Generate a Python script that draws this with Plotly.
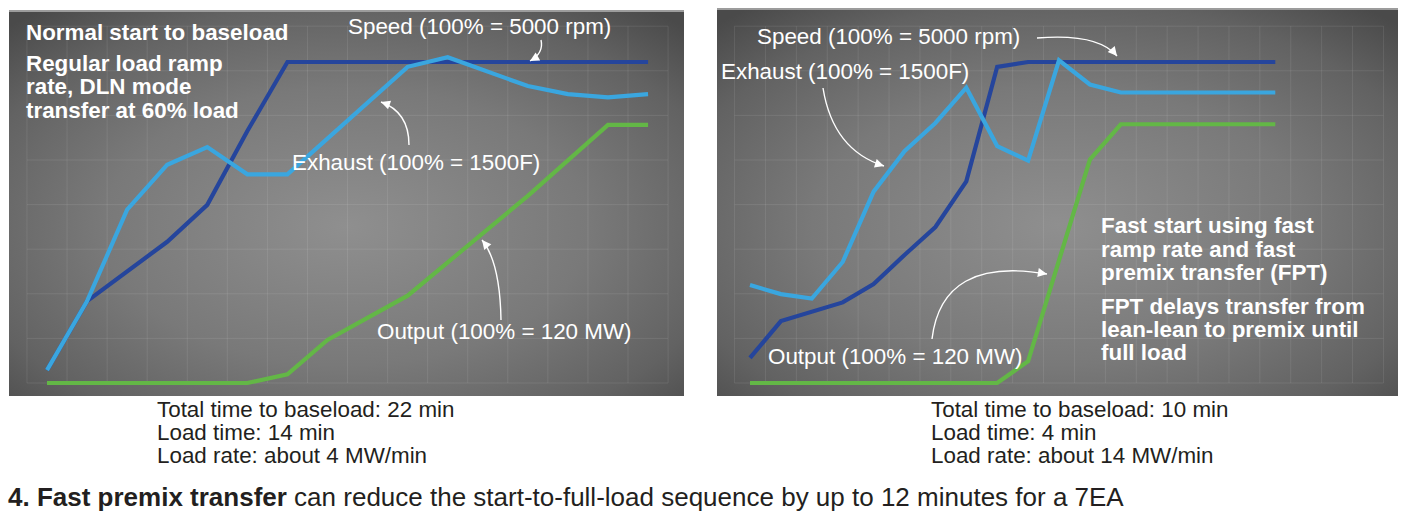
import base64
import math
import plotly.graph_objects as go

W, H = 1407, 513

# ---------------- data (x = time step on the chart grid, y = % of full scale) -------------
normal_speed_t = [0, 1, 3, 4, 5, 6, 15]
normal_speed = [4, 25.5, 44, 55.5, 78.5, 100, 100]
normal_exhaust_t = [0, 1, 2, 3, 4, 5, 6, 9, 10, 11, 12, 13, 14, 15]
normal_exhaust = [4, 25.5, 54, 68, 73.5, 65, 65, 98.5, 101.5, 97, 92.5, 90, 89, 90]
normal_output_t = [0, 5, 6, 7, 9, 12, 14, 15]
normal_output = [0, 0, 2.7, 13.4, 27.2, 58.3, 80.4, 80.4]

fast_speed_t = [0, 1, 3, 4, 5, 6, 7, 8, 9, 17]
fast_speed = [7.8, 19.3, 25.1, 30.8, 39.9, 48.6, 62.8, 98.5, 100, 100]
fast_exhaust_t = [0, 1, 2, 3, 4, 5, 6, 7, 8, 9, 10, 11, 12, 17]
fast_exhaust = [30.5, 27.7, 26.3, 37.7, 59.6, 72.2, 81, 92, 73.8, 69.3, 100.5, 93, 90.5, 90.5]
fast_output_t = [0, 8, 9, 11, 12, 17]
fast_output = [0, 0, 6.8, 69.6, 80.6, 80.6]

series_names = ["Speed (100% = 5000 rpm)", "Exhaust (100% = 1500F)", "Output (100% = 120 MW)"]

left_notes = ["Normal start to baseload", "Regular load ramp", "rate, DLN mode", "transfer at 60% load"]
right_notes = ["Fast start using fast", "ramp rate and fast", "premix transfer (FPT)",
               "FPT delays transfer from", "lean-lean to premix until", "full load"]
left_summary = ["Total time to baseload: 22 min", "Load time: 14 min", "Load rate: about 4 MW/min"]
right_summary = ["Total time to baseload: 10 min", "Load time: 4 min", "Load rate: about 14 MW/min"]
caption = "<b>4. Fast premix transfer</b> can reduce the start-to-full-load sequence by up to 12 minutes for a 7EA"

# ---------------- styling / geometry -------------
C_SPEED = "#25459c"
C_EXH = "#3aa6df"
C_OUT = "#63b746"
FONT = "Liberation Sans, Arial, Helvetica, sans-serif"
FS = 22.4

ZERO_PX = 383.0
PCT_PX = 3.21
GRID_DY = 44.6 / PCT_PX

panels = {
    "left": dict(x0=47.0, step=40.07, box=(9, 10, 684, 396), gx=(-0.5, 15.5)),
    "right": dict(x0=750.0, step=30.9, box=(717, 8, 1398, 396), gx=(-0.5, 20.5)),
}


def X(p):
    return p / W


def Y(p):
    return 1 - p / H


fig = go.Figure()

axis_ids = {"left": ("x", "y"), "right": ("x2", "y2")}
layout_axes = {}
for key, (xa, ya) in axis_ids.items():
    p = panels[key]
    l, t, r, b = p["box"]
    xr = [(l - p["x0"]) / p["step"], (r - p["x0"]) / p["step"]]
    yr = [(ZERO_PX - b) / PCT_PX, (ZERO_PX - t) / PCT_PX]
    xname = "xaxis" if xa == "x" else "xaxis2"
    yname = "yaxis" if ya == "y" else "yaxis2"
    layout_axes[xname] = dict(domain=[X(l), X(r)], range=xr, visible=False, fixedrange=True, anchor=ya)
    layout_axes[yname] = dict(domain=[Y(b), Y(t)], range=yr, visible=False, fixedrange=True, anchor=xa)


def add_line(tt, vals, color, xa, ya, name):
    fig.add_trace(go.Scatter(x=tt, y=vals, mode="lines", name=name,
                             line=dict(color=color, width=4.2),
                             xaxis=xa, yaxis=ya, showlegend=False, hoverinfo="skip"))


add_line(normal_speed_t, normal_speed, C_SPEED, "x", "y", series_names[0])
add_line(normal_exhaust_t, normal_exhaust, C_EXH, "x", "y", series_names[1])
add_line(normal_output_t, normal_output, C_OUT, "x", "y", series_names[2])
add_line(fast_speed_t, fast_speed, C_SPEED, "x2", "y2", series_names[0])
add_line(fast_exhaust_t, fast_exhaust, C_EXH, "x2", "y2", series_names[1])
add_line(fast_output_t, fast_output, C_OUT, "x2", "y2", series_names[2])


def grad_svg(w, h):
    svg = (
        f'<svg xmlns="http://www.w3.org/2000/svg" width="{w}" height="{h}" viewBox="0 0 {w} {h}" '
        f'preserveAspectRatio="none"><defs>'
        f'<radialGradient id="g" cx="50%" cy="56%" r="72%">'
        f'<stop offset="0" stop-color="#8f8f8f"/><stop offset="0.5" stop-color="#797979"/>'
        f'<stop offset="0.8" stop-color="#626262"/><stop offset="1" stop-color="#4a4a4a"/>'
        f'</radialGradient></defs>'
        f'<rect x="0" y="0" width="{w}" height="{h}" fill="url(#g)"/>'
        f'<rect x="0" y="0" width="{w}" height="2" fill="#9c9c9c"/>'
        f'</svg>'
    )
    return "data:image/svg+xml;base64," + base64.b64encode(svg.encode()).decode()


images = []
for key in panels:
    l, t, r, b = panels[key]["box"]
    images.append(dict(source=grad_svg(r - l, b - t), xref="paper", yref="paper",
                       x=X(l), y=Y(t), sizex=(r - l) / W, sizey=(b - t) / H,
                       xanchor="left", yanchor="top", sizing="stretch", layer="below"))

shapes = []
GRID_C = "rgba(255,255,255,0.09)"
for key, (xa, ya) in axis_ids.items():
    g0, g1 = panels[key]["gx"]
    n = int(round(g1 - g0))
    ytop = 8 * GRID_DY
    for i in range(n + 1):
        gx = g0 + i
        shapes.append(dict(type="line", xref=xa, yref=ya, x0=gx, x1=gx, y0=0, y1=ytop,
                           line=dict(color=GRID_C, width=1), layer="below"))
    for j in range(9):
        gy = j * GRID_DY
        shapes.append(dict(type="line", xref=xa, yref=ya, x0=g0, x1=g1, y0=gy, y1=gy,
                           line=dict(color=GRID_C, width=1), layer="below"))

# curved callout arrows (tail, control, tip) in pixels
arrows = [
    ((541, 40), (544, 53), (530, 61)),
    ((409, 145), (409, 112), (381, 102)),
    ((501, 320), (500, 262), (482, 240)),
    ((1037, 38), (1098, 33), (1117, 56)),
    ((823, 88), (833, 150), (884, 166)),
    ((932, 339), (942, 256), (1047, 274)),
]
annotations = []
for (tx, ty), (cx, cy), (px_, py_) in arrows:
    path = f"M {X(tx)} {Y(ty)} Q {X(cx)} {Y(cy)} {X(px_)} {Y(py_)}"
    shapes.append(dict(type="path", xref="paper", yref="paper", path=path,
                       line=dict(color="white", width=1.4)))
    dx, dy = cx - px_, cy - py_
    L = math.hypot(dx, dy)
    annotations.append(dict(x=X(px_), y=Y(py_), xref="paper", yref="paper", text="",
                            showarrow=True, arrowhead=2, arrowsize=1.3, arrowwidth=1.4,
                            arrowcolor="white", ax=dx / L * 9, ay=dy / L * 9, standoff=0))


def text(s, x, y, color="white", bold=False, size=FS):
    if bold:
        s = f"<b>{s}</b>"
    annotations.append(dict(x=X(x), y=Y(y), xref="paper", yref="paper", text=s, showarrow=False,
                            xanchor="left", yanchor="middle", align="left", borderpad=0,
                            font=dict(family=FONT, size=size, color=color)))


for s, y in zip(left_notes, [32.5, 63.5, 87, 110.5]):
    text(s, 25, y, bold=True)
for s, y in zip(right_notes, [225.8, 249, 272.2, 306, 329.2, 352.4]):
    text(s, 1100, y, bold=True)

text(series_names[0], 347, 27)
text(series_names[1], 291, 163)
text(series_names[2], 376, 331)
text(series_names[0], 756, 36)
text(series_names[1], 720, 71.5)
text(series_names[2], 767, 356)

for s, y in zip(left_summary, [409.3, 432.5, 455.7]):
    text(s, 156, y, color="#231f20")
for s, y in zip(right_summary, [409.3, 432.5, 455.7]):
    text(s, 930, y, color="#231f20")
text(caption, 7, 496.5, color="#231f20", size=26)

fig.update_layout(
    width=W, height=H, autosize=False,
    margin=dict(l=0, r=0, t=0, b=0, pad=0),
    paper_bgcolor="white", plot_bgcolor="rgba(0,0,0,0)",
    showlegend=False,
    images=images, shapes=shapes, annotations=annotations,
    **layout_axes,
)

fig.write_html("out.html", config={"displayModeBar": False},
               post_script="document.body.style.margin='0';document.body.style.overflow='hidden';")
